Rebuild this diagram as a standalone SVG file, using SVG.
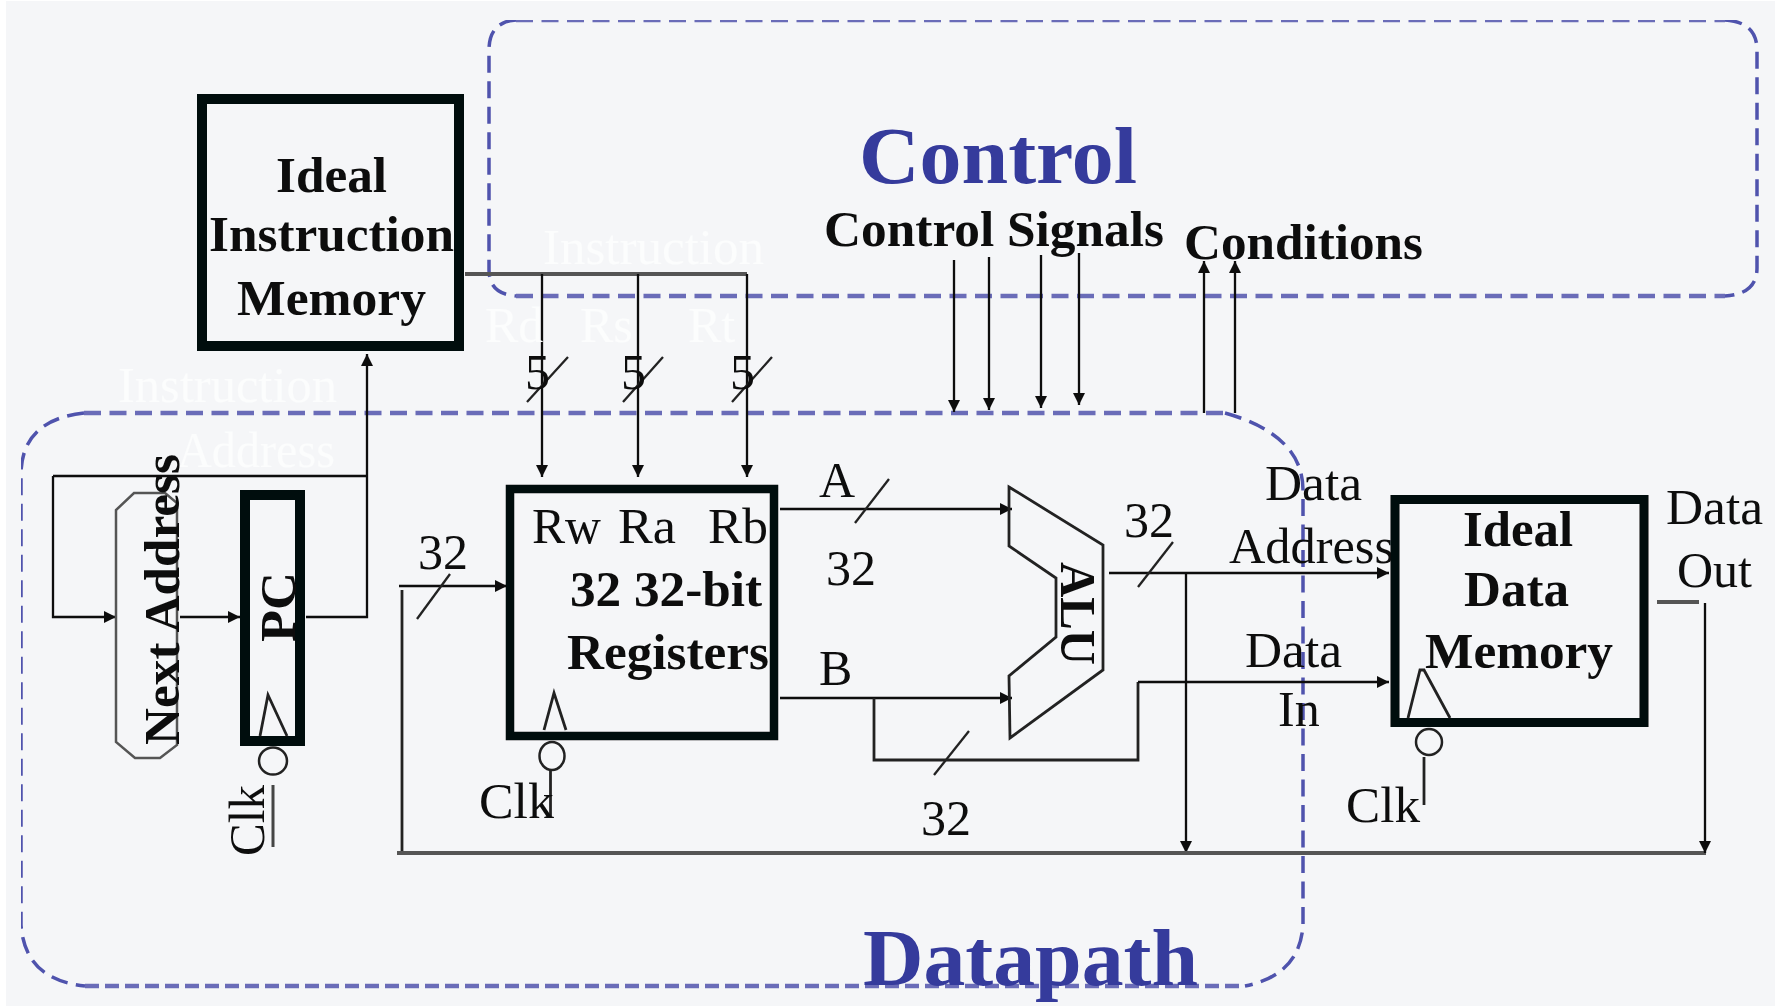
<svg xmlns="http://www.w3.org/2000/svg" width="1775" height="1006" viewBox="0 0 1775 1006">
<style>
text{font-family:"Liberation Serif","Times New Roman",serif;font-size:50px;fill:#111;}
.b{font-weight:bold;}
.w{fill:#fcfdfd;}
.t{font-weight:bold;fill:#353a9c;font-size:80px;}
.box{fill:none;stroke:#050708;}
.dash{fill:none;stroke:#6a6cb8;stroke-width:4.5;stroke-dasharray:17 8.5;}
.vd{fill:none;stroke:#4f53ad;stroke-width:3.5;stroke-dasharray:17 8.5;}
.w1{fill:none;stroke:#111;stroke-width:2.3;}
.w2{fill:none;stroke:#555;stroke-width:4;}
.sl{fill:none;stroke:#222;stroke-width:2.3;}
.th{fill:none;stroke:#222;stroke-width:2.8;}
.ar{marker-end:url(#a);}
</style>
<defs>
<marker id="a" markerUnits="userSpaceOnUse" markerWidth="14" markerHeight="12" refX="12" refY="6" orient="auto"><path d="M0 0L12 6L0 12Z" fill="#111"/></marker>
<filter id="soft" x="0" y="0" width="100%" height="100%"><feGaussianBlur stdDeviation="0.7"/></filter>
</defs>
<rect width="1775" height="1006" fill="#fff"/>
<rect x="6" y="1" width="1769" height="1005" fill="#f5f6f8"/>
<g filter="url(#soft)">
<g id="control-region">
<path class="dash" d="M516 20H1725"/>
<path class="dash" d="M516 296H1725"/>
<path class="vd" d="M516 20Q489 22 489 50V270Q489 294 516 296"/>
<path class="vd" d="M1725 20Q1757 22 1757 50V268Q1757 294 1725 296"/>
<text class="t" x="859" y="183" textLength="278" lengthAdjust="spacingAndGlyphs">Control</text>
</g>
<g id="datapath-region">
<path class="dash" d="M84 413H1225"/>
<path class="dash" style="stroke-dasharray:14 6" d="M85 986H1245"/>
<path class="vd" d="M84 413Q21 420 21 475V925Q25 980 85 986"/>
<path class="vd" d="M1225 413Q1303 435 1303 490V925Q1300 975 1245 986"/>
<text class="t" x="863" y="985" textLength="335" lengthAdjust="spacingAndGlyphs">Datapath</text>
</g>
<g id="connectors">
<path class="w2" d="M465 274H747"/>
<path class="w1 ar" d="M542 274V477"/>
<path class="w1 ar" d="M638 274V477"/>
<path class="w1 ar" d="M747 274V477"/>
<path class="sl" d="M527 402L568 357M623 402L663 357M732 402L772 357"/>
<path class="w1 ar" d="M954 260V412"/>
<path class="w1 ar" d="M989 257V410"/>
<path class="w1 ar" d="M1041 255V408"/>
<path class="w1 ar" d="M1079 253V405"/>
<path class="w1 ar" d="M1204 413V261"/>
<path class="w1 ar" d="M1235 413V261"/>
<path class="w1 ar" d="M53 476V617H116"/>
<path class="w1" d="M53 476H367"/>
<path class="w1 ar" d="M180 617H240"/>
<path class="w1 ar" d="M306 617H367V354"/>
<path class="th" d="M402 590V853"/>
<path class="w1 ar" d="M399 586H507"/>
<path class="sl" d="M417 619L450 574"/>
<path class="w1 ar" d="M780 509H1012"/>
<path class="sl" d="M855 523L889 479"/>
<path class="w1 ar" d="M780 698H1012"/>
<path class="th" d="M874 698V760H1138V682"/>
<path class="w1 ar" d="M1138 682H1389"/>
<path class="sl" d="M934 775L969 731"/>
<path class="w1 ar" d="M1109 573H1389"/>
<path class="sl" d="M1138 587L1173 542"/>
<path class="w1 ar" d="M1186 573V853"/>
<path class="w2" d="M397 853H1706"/>
<path class="w2" d="M1657 602H1699"/>
<path class="w1 ar" d="M1705 603V853"/>
</g>
<g id="instruction-labels">
<text class="w" x="543" y="264" textLength="221" lengthAdjust="spacingAndGlyphs">Instruction</text>
<text class="w" x="485" y="342">Rd</text>
<text class="w" x="580" y="342">Rs</text>
<text class="w" x="688" y="342">Rt</text>
<text class="w" x="118" y="402" textLength="219" lengthAdjust="spacingAndGlyphs">Instruction</text>
<text class="w" x="177" y="467" textLength="158" lengthAdjust="spacingAndGlyphs">Address</text>
<text x="525" y="389">5</text>
<text x="621" y="389">5</text>
<text x="730" y="389">5</text>
<text x="418" y="569">32</text>
<text x="819" y="497">A</text>
<text x="826" y="585">32</text>
<text x="819" y="685">B</text>
<text x="921" y="835">32</text>
<text x="1124" y="537">32</text>
<text x="1265" y="500" textLength="97" lengthAdjust="spacingAndGlyphs">Data</text>
<text x="1229" y="563" textLength="165" lengthAdjust="spacingAndGlyphs">Address</text>
<text x="1245" y="667" textLength="97" lengthAdjust="spacingAndGlyphs">Data</text>
<text x="1278" y="726">In</text>
<text x="1666" y="524" textLength="97" lengthAdjust="spacingAndGlyphs">Data</text>
<text x="1677" y="587">Out</text>
<text class="b" x="824" y="246" textLength="340" lengthAdjust="spacingAndGlyphs">Control Signals</text>
<text class="b" x="1184" y="259" textLength="239" lengthAdjust="spacingAndGlyphs">Conditions</text>
</g>
<g id="instruction-memory">
<rect class="box" x="202" y="99" width="257" height="247" stroke-width="10"/>
<text class="b" x="276" y="192" textLength="111" lengthAdjust="spacingAndGlyphs">Ideal</text>
<text class="b" x="209" y="251" textLength="245" lengthAdjust="spacingAndGlyphs">Instruction</text>
<text class="b" x="237" y="315" textLength="189" lengthAdjust="spacingAndGlyphs">Memory</text>
</g>
<g id="next-address">
<path d="M134 493H165L177 503V745L160 758H135L116 742V510Z" fill="none" stroke="#555" stroke-width="2.5"/>
<text class="b" transform="translate(179 745) rotate(-90)" textLength="291" lengthAdjust="spacingAndGlyphs">Next Address</text>
</g>
<g id="pc">
<rect class="box" x="245" y="495" width="55" height="246" stroke-width="10"/>
<text class="b" transform="translate(295 642) rotate(-90)" textLength="70" lengthAdjust="spacingAndGlyphs">PC</text>
<path class="th" d="M260 736L268 695L287 736"/>
<ellipse cx="273" cy="761" rx="14" ry="13.5" fill="none" stroke="#222" stroke-width="2.5"/>
<path d="M273 785V847" fill="none" stroke="#444" stroke-width="3"/>
<text transform="translate(264 856) rotate(-90)" textLength="71" lengthAdjust="spacingAndGlyphs">Clk</text>
</g>
<g id="registers">
<rect class="box" x="510" y="489" width="264" height="247" stroke-width="8.500"/>
<text x="532" y="543" textLength="69" lengthAdjust="spacingAndGlyphs">Rw</text>
<text x="618" y="543" textLength="58" lengthAdjust="spacingAndGlyphs">Ra</text>
<text x="708" y="543" textLength="60" lengthAdjust="spacingAndGlyphs">Rb</text>
<text class="b" x="570" y="606" textLength="192" lengthAdjust="spacingAndGlyphs">32 32-bit</text>
<text class="b" x="567" y="669" textLength="202" lengthAdjust="spacingAndGlyphs">Registers</text>
<path class="th" d="M544 730L554 693L566 730"/>
<ellipse cx="552" cy="756" rx="12.5" ry="14" fill="none" stroke="#222" stroke-width="2.5"/>
<path class="th" d="M550.500 770V818"/>
<text x="479" y="818" textLength="75" lengthAdjust="spacingAndGlyphs">Clk</text>
</g>
<g id="alu">
<path class="th" d="M1009 487L1103 545V670L1010 738L1009 676L1056 637V578L1009 546Z"/>
<text class="b" transform="translate(1061 562) rotate(90)" textLength="103" lengthAdjust="spacingAndGlyphs">ALU</text>
</g>
<g id="data-memory">
<rect class="box" x="1395" y="499.500" width="249" height="223" stroke-width="9"/>
<text class="b" x="1463" y="546" textLength="110" lengthAdjust="spacingAndGlyphs">Ideal</text>
<text class="b" x="1464" y="606" textLength="105" lengthAdjust="spacingAndGlyphs">Data</text>
<text class="b" x="1425" y="668" textLength="188" lengthAdjust="spacingAndGlyphs">Memory</text>
<path class="th" d="M1408 718L1420 670L1424 670L1450 718"/>
<circle cx="1429" cy="742" r="13" fill="none" stroke="#222" stroke-width="2.5"/>
<path class="th" d="M1424 757V805"/>
<text x="1346" y="822" textLength="74" lengthAdjust="spacingAndGlyphs">Clk</text>
</g>
</g>
</svg>
